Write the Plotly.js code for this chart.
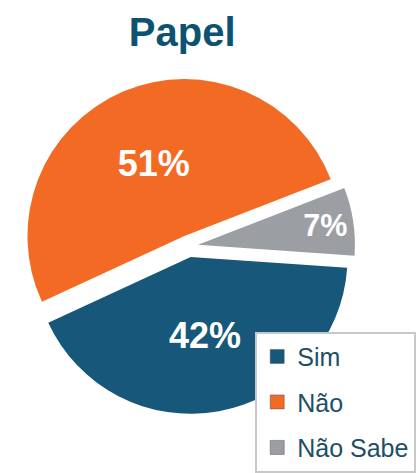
<!DOCTYPE html>
<html>
<head>
<meta charset="utf-8">
<script src="https://cdn.plot.ly/plotly-3.0.1.min.js"></script>
<style>html,body{margin:0;padding:0;background:#fff}#chart{width:417px;height:473px}</style>
</head>
<body>
<div id="chart"></div>
<script>
const titleText = "Papel";
const labels = ["Sim", "Não", "Não Sabe"];
const values = [42, 51, 7];
const colors = ["#17587a", "#f26a23", "#9b9fa4"];

const pie = {
  type: "pie",
  labels: labels,
  values: values,
  sort: false,
  direction: "clockwise",
  rotation: 94,
  pull: [0.07, 0.07, 0.06],
  marker: {colors: colors, line: {color: "#ffffff", width: 0}},
  textinfo: "percent",
  textposition: "inside",
  insidetextorientation: "horizontal",
  textfont: {family: "Arial, Liberation Sans, sans-serif", size: 36, color: "#ffffff", weight: "bold"},
  showlegend: false,
  hoverinfo: "label+percent",
  domain: {x: [0.045, 0.86], y: [0.10, 0.83]}
};

const legendProxies = labels.map((lab, i) => ({
  type: "scatter",
  mode: "markers",
  x: [null], y: [null],
  name: lab,
  legendgroup: lab,
  marker: {symbol: "square", size: 14, color: colors[i], line: {color: "#555", width: 0.5}},
  showlegend: true,
  hoverinfo: "skip"
}));

const layout = {
  width: 417, height: 473,
  margin: {l: 0, r: 0, t: 0, b: 0},
  paper_bgcolor: "#ffffff",
  plot_bgcolor: "rgba(0,0,0,0)",
  title: {
    text: "<b>" + titleText + "</b>",
    font: {family: "Arial, Liberation Sans, sans-serif", size: 40, color: "#0c5271"},
    x: 0.437, xanchor: "center", y: 0.962, yanchor: "top"
  },
  xaxis: {visible: false, domain: [0.99, 1]},
  yaxis: {visible: false, domain: [0.99, 1]},
  showlegend: true,
  legend: {
    x: 0.612, xanchor: "left", y: 0.279, yanchor: "top",
    bgcolor: "#ffffff", bordercolor: "#c8c8c8", borderwidth: 2,
    font: {family: "Arial, Liberation Sans, sans-serif", size: 25, color: "#1d4f66"},
    tracegroupgap: 10, itemwidth: 30
  }
};

Plotly.newPlot("chart", [pie].concat(legendProxies), layout, {displayModeBar: false, staticPlot: true});
</script>
</body>
</html>
